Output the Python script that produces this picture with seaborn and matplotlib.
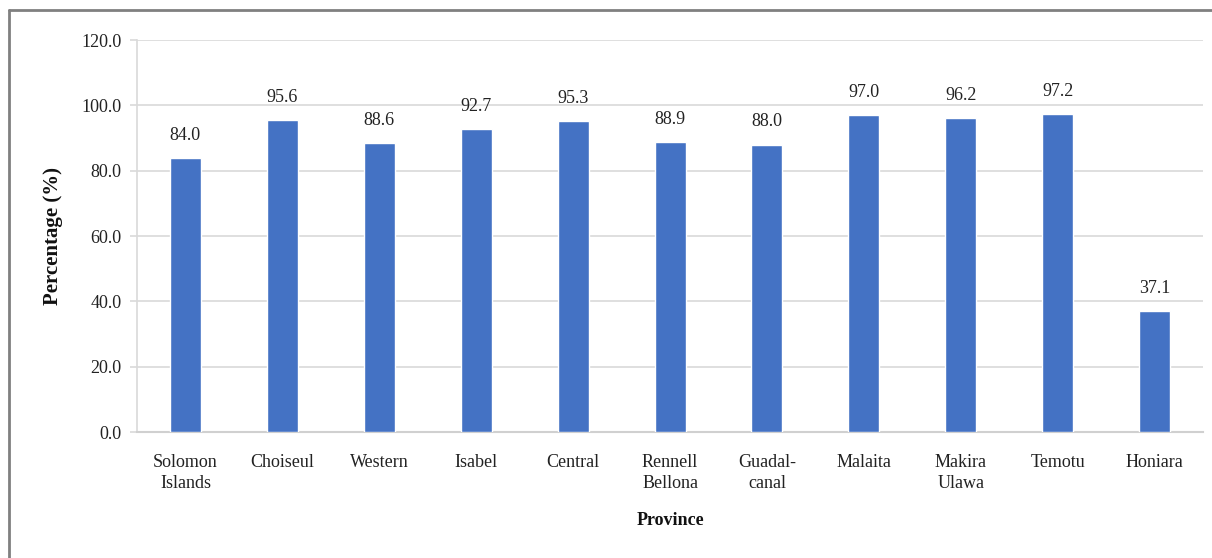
import matplotlib
matplotlib.use("Agg")
import matplotlib.pyplot as plt
import matplotlib.lines as mlines
import seaborn as sns
import pandas as pd
from matplotlib.ticker import FixedLocator, FuncFormatter

provinces = ["Solomon\nIslands", "Choiseul", "Western", "Isabel", "Central",
             "Rennell\nBellona", "Guadal-\ncanal", "Malaita", "Makira\nUlawa",
             "Temotu", "Honiara"]
percentages = [84.0, 95.6, 88.6, 92.7, 95.3, 88.9, 88.0, 97.0, 96.2, 97.2, 37.1]
y_ticks = [0, 20, 40, 60, 80, 100, 120]

df = pd.DataFrame({"Province": provinces, "Percentage": percentages})

sns.set_theme(style="white")
plt.rcParams["font.family"] = ["Liberation Serif", "DejaVu Serif"]

fig = plt.figure(figsize=(12.12, 5.58), dpi=100)
ax = fig.add_axes([0.113, 0.2258, 0.8797, 0.7025])

sns.barplot(data=df, x="Province", y="Percentage", color="#4472C4",
            width=0.32, saturation=1, ax=ax, zorder=3)

ax.set_ylim(0, 120)
ax.set_xlim(-0.5, len(provinces) - 0.5)
ax.yaxis.set_major_locator(FixedLocator(y_ticks))
ax.yaxis.set_major_formatter(FuncFormatter(lambda v, p: f"{v:.1f}"))
ax.grid(axis="y", color="#d9d9d9", linewidth=1.2, zorder=0)
ax.set_axisbelow(True)

for side in ["top", "right"]:
    ax.spines[side].set_visible(False)
ax.spines["left"].set_color("#d9d9d9")
ax.spines["left"].set_linewidth(1.2)
ax.spines["bottom"].set_color("#d0d0d0")
ax.spines["bottom"].set_linewidth(1.5)

# category separators on x axis
ax.set_xticks([i + 0.5 for i in range(-1, len(provinces))], minor=True)
ax.tick_params(axis="x", which="minor", length=6, width=1.2, color="#d0d0d0",
               direction="out")
ax.tick_params(axis="x", which="major", length=0, pad=16, labelsize=13,
               labelcolor="#222222")
ax.tick_params(axis="y", which="major", length=5, width=1.2, color="#d9d9d9",
               pad=6, labelsize=13, labelcolor="#222222", left=True)
for lbl in ax.get_xticklabels():
    lbl.set_linespacing(1.3)

for i, v in enumerate(percentages):
    ax.text(i, v + 4.3, f"{v:.1f}", ha="center", va="bottom", fontsize=13,
            color="#222222")

ax.set_xlabel("Province", fontsize=13, fontweight="bold", labelpad=14,
              color="#111111")
ax.set_ylabel("Percentage (%)", fontsize=15, fontweight="bold", labelpad=13,
              color="#111111")

# outer frame (top and left edges)
fig.add_artist(mlines.Line2D([9 / 1212, 1.0], [1 - 10 / 558, 1 - 10 / 558],
                             transform=fig.transFigure, color="#808080", linewidth=2))
fig.add_artist(mlines.Line2D([9 / 1212, 9 / 1212], [0.0, 1 - 10 / 558],
                             transform=fig.transFigure, color="#808080", linewidth=2))

fig.savefig("out.png", dpi=100, facecolor="white")
